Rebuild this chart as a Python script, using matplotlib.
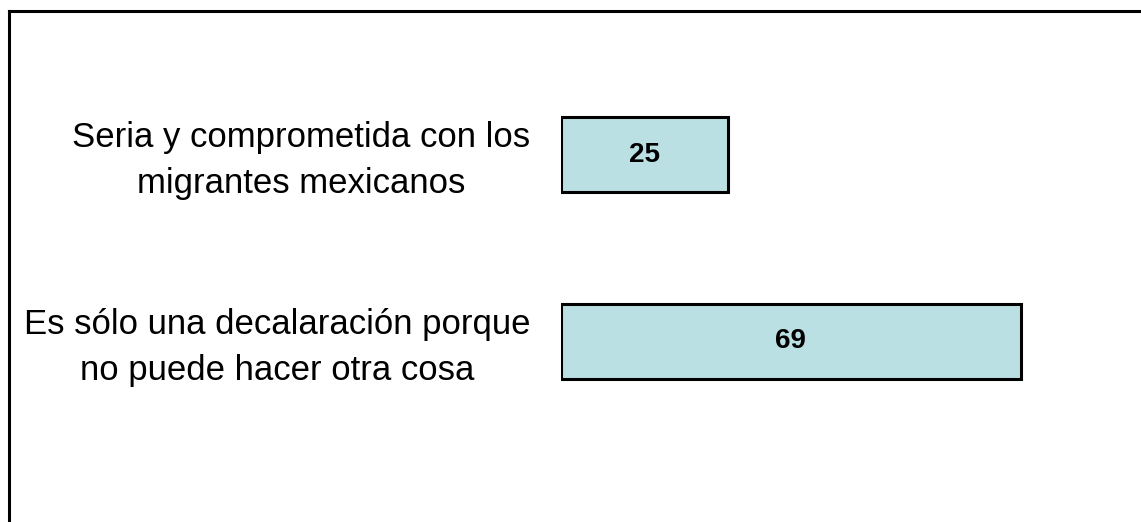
import matplotlib.pyplot as plt
from matplotlib.lines import Line2D
from matplotlib.transforms import ScaledTranslation

categorias = ["Seria y comprometida con los\nmigrantes mexicanos",
              "Es sólo una decalaración porque\nno puede hacer otra cosa"]
valores = [25, 69]
posiciones = [1, 0]

plt.rcParams['font.family'] = ['Liberation Sans', 'DejaVu Sans']

fig = plt.figure(figsize=(11.41, 5.22), dpi=100)
W, H = 1141, 522

# area de las barras (el cero queda en x=561 px)
ax = fig.add_axes([561 / W, 0, 1 - 561 / W, 1])
ax.barh(posiciones, valores, height=0.405, color='#bbe0e3',
        edgecolor='black', linewidth=2.2)
ax.set_xlim(0, (W - 561) / 6.66)
ax.set_ylim(-180.5 / 187, (H - 180.5) / 187)

for p, v in zip(posiciones, valores):
    ax.text(v / 2, p, str(v), ha='center', va='center',
            fontsize=20, fontweight='bold')

ax.set_yticks(posiciones)
ax.set_yticklabels(categorias, fontsize=25, multialignment='center',
                   linespacing=1.5)
ax.tick_params(axis='y', length=0, pad=22)
ax.set_xticks([])
for s in ax.spines.values():
    s.set_visible(False)

# subir un poco las etiquetas
sube = ScaledTranslation(0, 4 / 100, fig.dpi_scale_trans)
for lab in ax.get_yticklabels():
    lab.set_transform(lab.get_transform() + sube)

# marco exterior (solo se ven los lados izquierdo y superior)
fig.add_artist(Line2D([9 / W, 9 / W], [0, 1 - 11 / H], color='black',
                      linewidth=2.2, transform=fig.transFigure))
fig.add_artist(Line2D([9 / W, 1], [1 - 11 / H, 1 - 11 / H], color='black',
                      linewidth=2.2, transform=fig.transFigure))

plt.savefig("out.png", dpi=100)
